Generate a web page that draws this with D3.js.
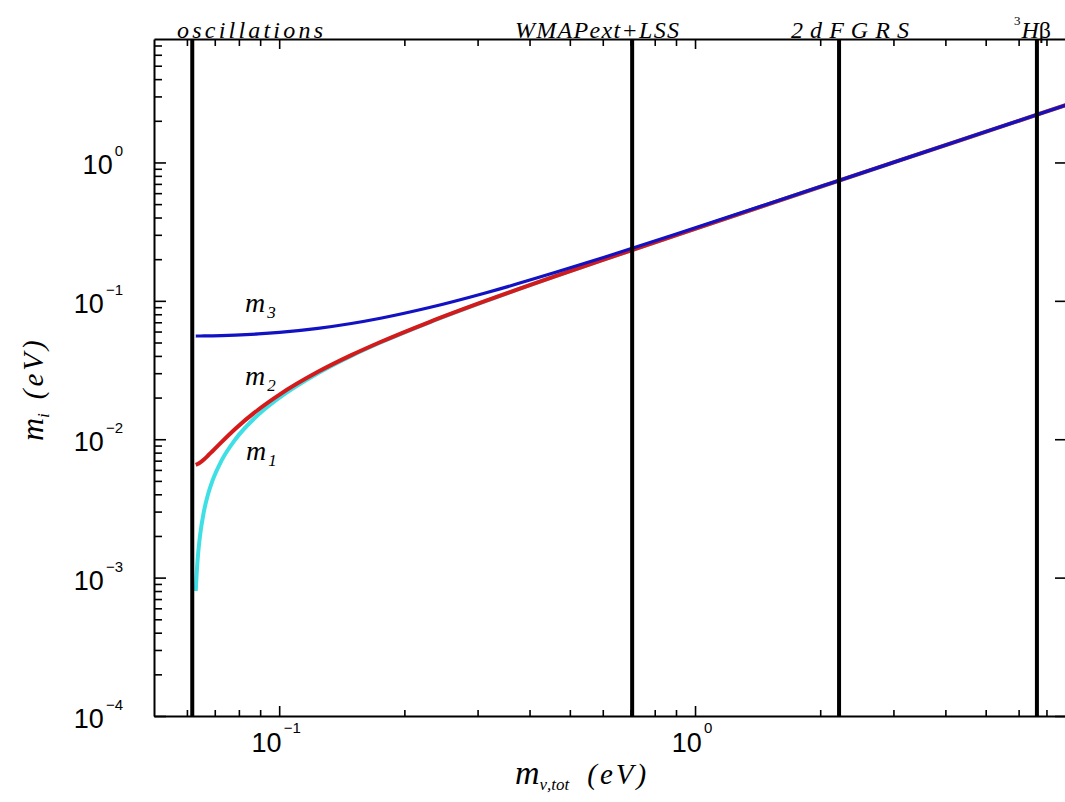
<!DOCTYPE html>
<html>
<head>
<meta charset="utf-8">
<script src="https://cdn.jsdelivr.net/npm/d3@7"></script>
<style>
  html, body { margin: 0; padding: 0; background: #fff; overflow: hidden; }
  svg { display: block; }
  .serif { font-family: 'Liberation Serif', 'DejaVu Serif', serif; font-style: italic; }
  .sans { font-family: 'Liberation Sans', Arial, sans-serif; }
</style>
</head>
<body>
<svg id="chart"></svg>
<script>
// summed neutrino mass (x) and the three individual masses (y), in eV
const sumMass = [0.06301, 0.06324, 0.06348, 0.06385, 0.0645, 0.0659, 0.06744, 0.06909, 0.07266, 0.07849,
    0.089, 0.10019, 0.12394, 0.14908, 0.17525, 0.22974, 0.31467, 0.46014, 0.6077, 0.9052,
    1.5031, 2.1022, 3.0016, 4.5011, 6.0008, 7.8006];
const m1 = [0.0008, 0.001, 0.0012, 0.0015, 0.002, 0.003, 0.004, 0.005, 0.007, 0.01,
    0.015, 0.02, 0.03, 0.04, 0.05, 0.07, 0.1, 0.15, 0.2, 0.3,
    0.5, 0.7, 1.0, 1.5, 2.0, 2.6];
const m2 = [0.00653, 0.00656, 0.00659, 0.00665, 0.00678, 0.00714, 0.00762, 0.00819, 0.00954, 0.01192,
    0.01634, 0.02102, 0.03069, 0.04052, 0.05042, 0.0703, 0.10021, 0.15014, 0.2001, 0.30007,
    0.50004, 0.70003, 1.00002, 1.50001, 2.0, 2.6];
const m3 = [0.05568, 0.05569, 0.05569, 0.0557, 0.05571, 0.05576, 0.05582, 0.0559, 0.05612, 0.05657,
    0.05766, 0.05916, 0.06325, 0.06856, 0.07483, 0.08944, 0.11446, 0.16, 0.20761, 0.30512,
    0.50309, 0.70221, 1.00155, 1.50103, 2.00077, 2.6006];

// experimental bounds (vertical lines)
const boundNames = ['oscillations', 'WMAPext+LSS', '2dFGRS', 'H'];
const boundValues = [0.0618, 0.706, 2.22, 6.64];

const xDomain = [0.05, 7.8];
const yDomain = [1e-4, 7.8];
const xMajor = [0.1, 1];
const xExp = ['\u22121', '0'];
const yMajor = [1, 0.1, 0.01, 0.001, 0.0001];
const yExp = ['0', '\u22121', '\u22122', '\u22123', '\u22124'];

const W = 1065, H = 802;
const svg = d3.select('#chart').attr('width', W).attr('height', H);

const plot = { left: 154, top: 39, bottom: 716, right: 1066 };

const x = d3.scaleLog().domain(xDomain).range([plot.left, plot.right]);
const y = d3.scaleLog().domain(yDomain).range([plot.bottom, plot.top]);

function minorTicks(domain) {
    const out = [];
    for (let k = -5; k <= 1; k++) {
        for (let j = 2; j <= 9; j++) {
            const v = j * Math.pow(10, k);
            if (v > domain[0] && v < domain[1]) out.push(v);
        }
    }
    return out;
}
const xMinor = minorTicks(xDomain);
const yMinor = minorTicks(yDomain);

function styleAxis(g, w) {
    g.selectAll('path').attr('stroke', '#000').attr('stroke-width', w);
    g.selectAll('line').attr('stroke', '#000').attr('stroke-width', 1.6);
}

// left axis (ticks pointing in)
svg.append('g').attr('transform', `translate(${plot.left},0)`)
    .call(d3.axisRight(y).tickValues(yMinor).tickSize(8).tickSizeOuter(0).tickFormat(''))
    .call(g => styleAxis(g, 2));
svg.append('g').attr('transform', `translate(${plot.left},0)`)
    .call(d3.axisRight(y).tickValues(yMajor).tickSize(12).tickSizeOuter(0).tickFormat(''))
    .call(g => g.select('path').remove())
    .call(g => styleAxis(g, 2));

// right axis, majors only
svg.append('g').attr('transform', `translate(${plot.right},0)`)
    .call(d3.axisLeft(y).tickValues(yMajor).tickSize(11).tickSizeOuter(0).tickFormat(''))
    .call(g => styleAxis(g, 2));

// bottom axis
svg.append('g').attr('transform', `translate(0,${plot.bottom})`)
    .call(d3.axisTop(x).tickValues(xMinor).tickSize(6).tickSizeOuter(0).tickFormat(''))
    .call(g => styleAxis(g, 2));
svg.append('g').attr('transform', `translate(0,${plot.bottom})`)
    .call(d3.axisTop(x).tickValues(xMajor).tickSize(10).tickSizeOuter(0).tickFormat(''))
    .call(g => g.select('path').remove())
    .call(g => styleAxis(g, 2));

// top axis
svg.append('g').attr('transform', `translate(0,${plot.top})`)
    .call(d3.axisBottom(x).tickValues(xMinor).tickSize(7).tickSizeOuter(0).tickFormat(''))
    .call(g => styleAxis(g, 2));
svg.append('g').attr('transform', `translate(0,${plot.top})`)
    .call(d3.axisBottom(x).tickValues(xMajor).tickSize(10).tickSizeOuter(0).tickFormat(''))
    .call(g => g.select('path').remove())
    .call(g => styleAxis(g, 2));

// y tick labels
yMajor.forEach((v, i) => {
    const t = svg.append('text').attr('class', 'sans')
        .attr('x', 123).attr('y', y(v) + 12)
        .attr('text-anchor', 'end').attr('font-size', 27).attr('fill', '#000');
    t.append('tspan').text('10');
    t.append('tspan').attr('dy', -18).attr('dx', 2).attr('font-size', 15).text(yExp[i]);
});

// x tick labels
xMajor.forEach((v, i) => {
    const t = svg.append('text').attr('class', 'sans')
        .attr('x', x(v) - 3).attr('y', plot.bottom + 36)
        .attr('text-anchor', 'middle').attr('font-size', 27).attr('fill', '#000');
    t.append('tspan').text('10');
    t.append('tspan').attr('dy', -19).attr('dx', 2).attr('font-size', 15).text(xExp[i]);
});

// curves
const line = d3.line()
    .x(d => x(d[0]))
    .y(d => y(d[1]))
    .curve(d3.curveMonotoneX);

const series = [
    { values: m1, color: '#3ee0e6', width: 4 },
    { values: m2, color: '#d41a1a', width: 4 },
    { values: m3, color: '#1212c4', width: 3.2 },
];
series.forEach(s => {
    svg.append('path')
        .datum(sumMass.map((v, i) => [v, s.values[i]]))
        .attr('d', line)
        .attr('fill', 'none')
        .attr('stroke', s.color)
        .attr('stroke-width', s.width)
        .attr('stroke-linejoin', 'round');
});

// vertical bound lines
svg.selectAll('line.bound')
    .data(boundValues)
    .join('line')
    .attr('class', 'bound')
    .attr('x1', d => x(d)).attr('x2', d => x(d))
    .attr('y1', plot.top).attr('y2', plot.bottom)
    .attr('stroke', '#000')
    .attr('stroke-width', 4);

// bound labels along the top
const topLabels = [
    { text: boundNames[0], x: 177, len: 146 },
    { text: boundNames[1], x: 515, len: 164 },
    { text: boundNames[2], x: 791, len: 118 },
];
topLabels.forEach(l => {
    svg.append('text').attr('class', 'serif')
        .attr('x', l.x).attr('y', 38)
        .attr('font-size', 24)
        .attr('textLength', l.len)
        .attr('lengthAdjust', 'spacing')
        .attr('fill', '#000')
        .text(l.text);
});
const hb = svg.append('text').attr('class', 'serif')
    .attr('x', 1014).attr('y', 38).attr('font-size', 24).attr('fill', '#000');
hb.append('tspan').attr('font-size', 13).attr('font-style', 'normal').attr('dy', -13).text('3');
hb.append('tspan').attr('dy', 13).attr('dx', 1).text(boundNames[3]);
hb.append('tspan').attr('font-style', 'normal').text('\u03b2');

// curve labels
const curveLabels = [
    { sub: '3', x: 245, y: 312 },
    { sub: '2', x: 245, y: 385 },
    { sub: '1', x: 246, y: 460 },
];
curveLabels.forEach(l => {
    const t = svg.append('text').attr('class', 'serif')
        .attr('x', l.x).attr('y', l.y)
        .attr('font-size', 28).attr('fill', '#000');
    t.append('tspan').text('m');
    t.append('tspan').attr('dy', 6).attr('dx', 2).attr('font-size', 17).text(l.sub);
});

// x axis title
const xt = svg.append('text').attr('class', 'serif')
    .attr('x', 515).attr('y', 784)
    .attr('font-size', 34).attr('fill', '#000');
xt.append('tspan').text('m');
xt.append('tspan').attr('dy', 6).attr('font-size', 17).text('\u03bd,tot');
xt.append('tspan').attr('dy', -6).attr('dx', 18).attr('font-size', 29)
    .attr('letter-spacing', 3).text('(eV)');

// y axis title
const yt = svg.append('text').attr('class', 'serif')
    .attr('transform', 'translate(43,441) rotate(-90)')
    .attr('font-size', 32).attr('fill', '#000');
yt.append('tspan').text('m');
yt.append('tspan').attr('dy', 6).attr('font-size', 17).text('i');
yt.append('tspan').attr('dy', -6).attr('dx', 14).attr('font-size', 29)
    .attr('letter-spacing', 3).text('(eV)');
</script>
</body>
</html>
